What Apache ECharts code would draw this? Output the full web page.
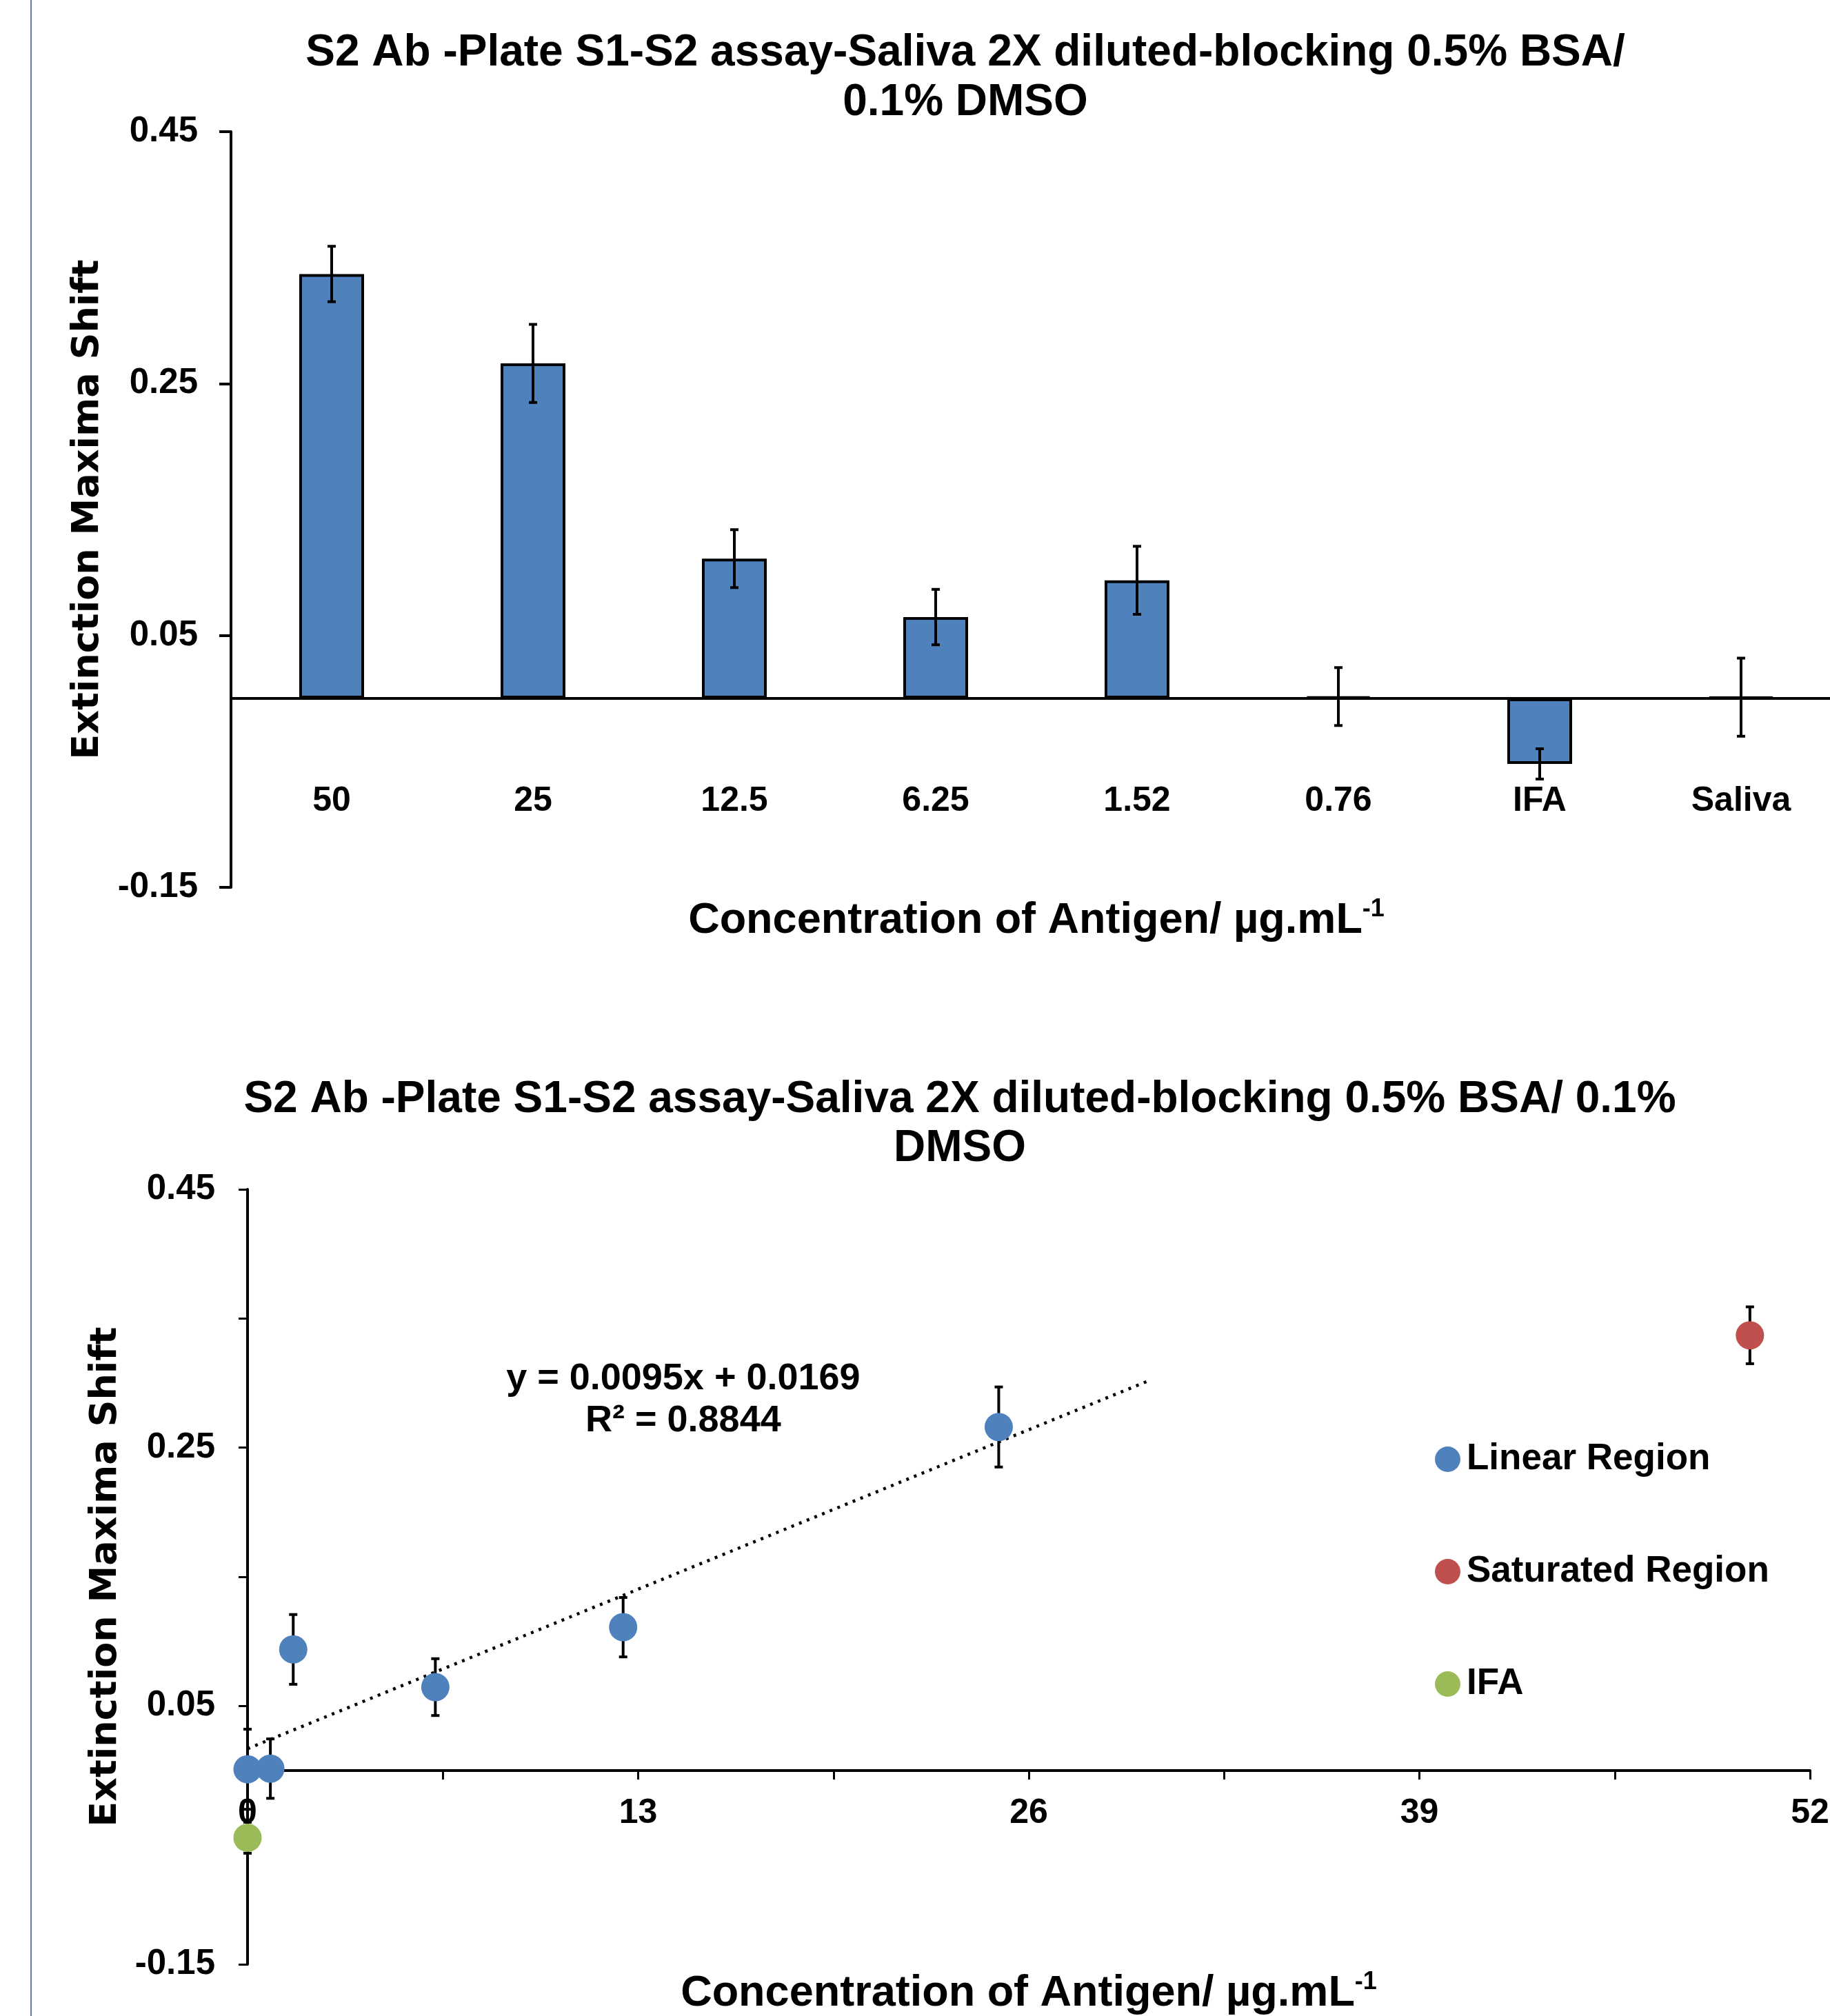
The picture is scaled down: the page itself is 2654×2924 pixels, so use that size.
<!DOCTYPE html>
<html><head><meta charset="utf-8">
<script src="https://cdn.jsdelivr.net/npm/echarts@6/dist/echarts.min.js"></script>
<style>html,body{margin:0;padding:0;background:#fff}#c{width:2654px;height:2924px}</style>
</head><body><div id="c"></div>
<script>
// ---- data ----
const categories = ['50', '25', '12.5', '6.25', '1.52', '0.76', 'IFA', 'Saliva'];
const concentrations = [50, 25, 12.5, 6.25, 1.52, 0.76, 0, 0];
const shiftValues = [0.337, 0.266, 0.111, 0.0646, 0.0938, 0.0015, -0.052, 0.001];
const shiftErrors = [0.022, 0.031, 0.023, 0.022, 0.027, 0.023, 0.012, 0.031];
const pointRegions = ['Saturated Region', 'Linear Region', 'Linear Region', 'Linear Region', 'Linear Region', 'Linear Region', 'IFA', 'Linear Region'];
const regionNames = ['Linear Region', 'Saturated Region', 'IFA'];
const regionColors = ['#4F81BD', '#C0504D', '#9BBB59'];
const trendPoints = [[0, 0.0169], [30, 0.3019]];
const trendLabel = ['y = 0.0095x + 0.0169', 'R² = 0.8844'];
const titleTop = 'S2 Ab -Plate S1-S2 assay-Saliva 2X diluted-blocking 0.5% BSA/\n0.1% DMSO';
const titleBottom = 'S2 Ab -Plate S1-S2 assay-Saliva 2X diluted-blocking 0.5% BSA/ 0.1%\nDMSO';
const yName = 'Extinction Maxima Shift';
const xNameMain = 'Concentration of Antigen/ µg.mL';
const xNameSup = '-1';

// ---- styling ----
const AR = '"Liberation Sans", Arial, sans-serif';
const DV = '"DejaVu Sans", Verdana, sans-serif';
const BLUE = '#4F81BD';

const chart = echarts.init(document.getElementById('c'), null, {renderer: 'canvas'});

function errRender(capHalf) {
  return function (params, api) {
    const x = api.value(0), lo = api.value(1), hi = api.value(2);
    const a = api.coord([x, hi]), b = api.coord([x, lo]);
    const st = {stroke: '#000', lineWidth: 4};
    return {type: 'group', children: [
      {type: 'line', shape: {x1: a[0], y1: a[1], x2: b[0], y2: b[1]}, style: st},
      {type: 'line', shape: {x1: a[0] - capHalf, y1: a[1], x2: a[0] + capHalf, y2: a[1]}, style: {stroke: '#000', lineWidth: 4}},
      {type: 'line', shape: {x1: b[0] - capHalf, y1: b[1], x2: b[0] + capHalf, y2: b[1]}, style: {stroke: '#000', lineWidth: 4}}
    ]};
  };
}

const errTop = categories.map((c, i) => [i, shiftValues[i] - shiftErrors[i], shiftValues[i] + shiftErrors[i]]);
const errBottom = concentrations.map((x, i) => [x, shiftValues[i] - shiftErrors[i], shiftValues[i] + shiftErrors[i]]);

const scatterSeries = regionNames.map((name, k) => ({
  name: name,
  type: 'scatter',
  xAxisIndex: 1, yAxisIndex: 1,
  symbol: 'circle',
  symbolSize: 41,
  z: 4,
  itemStyle: {color: regionColors[k], opacity: 1},
  data: concentrations.map((x, i) => [x, shiftValues[i], pointRegions[i]]).filter(d => d[2] === name).map(d => [d[0], d[1]])
}));

const nameRich = {
  a: {fontFamily: AR, fontWeight: 'bold', fontSize: 63, color: '#000', lineHeight: 70},
  s: {fontFamily: AR, fontWeight: 'bold', fontSize: 36, color: '#000', verticalAlign: 'top', lineHeight: 36}
};

function everyOther(v, step, base) {
  const k = (v - base) / step;
  return Math.abs(k - Math.round(k)) < 1e-6;
}

const option = {
  animation: false,
  backgroundColor: '#fff',
  title: [
    {text: titleTop, left: 1400, top: 41, textAlign: 'center', padding: 0,
     textStyle: {fontFamily: AR, fontWeight: 'bold', fontSize: 64, lineHeight: 72, color: '#000'}},
    {text: titleBottom, left: 1392, top: 1560, textAlign: 'center', padding: 0,
     textStyle: {fontFamily: AR, fontWeight: 'bold', fontSize: 64, lineHeight: 71, color: '#000'}}
  ],
  legend: {
    data: regionNames,
    orient: 'vertical',
    left: 2081, top: 2090,
    itemWidth: 37, itemHeight: 37,
    itemGap: 110,
    icon: 'circle',
    padding: 0,
    textStyle: {fontFamily: AR, fontWeight: 'bold', fontSize: 53, lineHeight: 52, color: '#000', padding: [0, 0, 0, 4]}
  },
  graphic: [
    {type: 'line', shape: {x1: 45, y1: 0, x2: 45, y2: 2924}, style: {stroke: '#5b7fb0', lineWidth: 2}, silent: true}
  ],
  grid: [
    {left: 335, top: 191, width: 2336, height: 1096, containLabel: false, outerBoundsMode: 'none'},
    {left: 359, top: 1725, width: 2266, height: 1124, containLabel: false, outerBoundsMode: 'none'}
  ],
  xAxis: [
    {type: 'category', gridIndex: 0, data: categories, boundaryGap: true,
     axisLine: {onZero: true, lineStyle: {color: '#000', width: 4}},
     axisTick: {show: false},
     axisLabel: {margin: -150, fontFamily: AR, fontWeight: 'bold', fontSize: 50, color: '#000'},
     splitLine: {show: false},
     name: '{a|' + xNameMain + '}{s|' + xNameSup + '}',
     nameLocation: 'middle', nameGap: 14,
     nameTextStyle: {rich: nameRich}},
    {type: 'value', gridIndex: 1, min: 0, max: 52, interval: 6.5,
     axisLine: {onZero: true, lineStyle: {color: '#000', width: 4}},
     axisTick: {show: true, length: 13, lineStyle: {color: '#000', width: 3}},
     axisLabel: {margin: -244, fontFamily: AR, fontWeight: 'bold', fontSize: 50, color: '#000',
       formatter: v => everyOther(v, 13, 0) ? String(Math.round(v)) : ''},
     splitLine: {show: false},
     name: '{a|' + xNameMain + '}{s|' + xNameSup + '}',
     nameLocation: 'middle', nameGap: 8,
     nameTextStyle: {rich: nameRich}}
  ],
  yAxis: [
    {type: 'value', gridIndex: 0, min: -0.15, max: 0.45, interval: 0.2,
     axisLine: {show: true, onZero: false, lineStyle: {color: '#000', width: 4}},
     axisTick: {show: true, length: 17, lineStyle: {color: '#000', width: 4}},
     axisLabel: {margin: 48, fontFamily: AR, fontWeight: 'bold', fontSize: 51, color: '#000',
       formatter: v => v.toFixed(2)},
     splitLine: {show: false},
     name: yName, nameLocation: 'middle', nameGap: 180, nameRotate: 90,
     nameTextStyle: {fontFamily: DV, fontWeight: 'bold', fontSize: 54, color: '#000'}},
    {type: 'value', gridIndex: 1, min: -0.15, max: 0.45, interval: 0.1,
     axisLine: {show: true, onZero: false, lineStyle: {color: '#000', width: 4}},
     axisTick: {show: true, length: 13, lineStyle: {color: '#000', width: 3}},
     axisLabel: {margin: 47, fontFamily: AR, fontWeight: 'bold', fontSize: 51, color: '#000',
       formatter: v => everyOther(v, 0.2, -0.15) ? v.toFixed(2) : ''},
     splitLine: {show: false},
     name: yName, nameLocation: 'middle', nameGap: 178, nameRotate: 90,
     nameTextStyle: {fontFamily: DV, fontWeight: 'bold', fontSize: 54, color: '#000'}}
  ],
  series: [
    {type: 'bar', xAxisIndex: 0, yAxisIndex: 0, data: shiftValues, barWidth: 94, z: 2,
     itemStyle: {color: BLUE, borderColor: '#000', borderWidth: 4}},
    {type: 'custom', xAxisIndex: 0, yAxisIndex: 0, data: errTop, z: 5,
     encode: {x: 0, y: [1, 2]}, renderItem: errRender(6)},
    {type: 'custom', xAxisIndex: 1, yAxisIndex: 1, data: errBottom, z: 2,
     encode: {x: 0, y: [1, 2]}, renderItem: errRender(6)},
    {type: 'line', xAxisIndex: 1, yAxisIndex: 1, data: trendPoints, showSymbol: false, symbol: 'none', z: 3,
     lineStyle: {color: '#000', width: 4.5, type: [4, 8]},
     markPoint: {symbol: 'circle', symbolSize: 0,
       data: [{coord: [14.5, 0.287], value: 0}],
       label: {show: true, position: 'inside', formatter: trendLabel.join('\n'),
         fontFamily: AR, fontWeight: 'bold', fontSize: 54, lineHeight: 61, color: '#000', align: 'center'}}}
  ].concat(scatterSeries)
};
chart.setOption(option);
</script></body></html>
